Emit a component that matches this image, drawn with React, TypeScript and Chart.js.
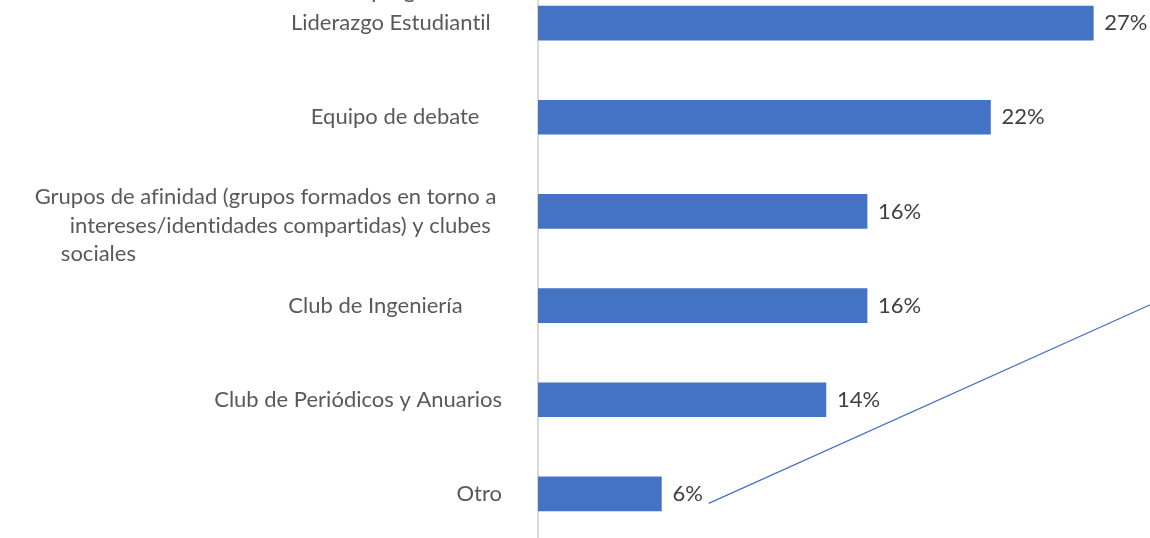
import React, { useEffect, useRef } from "react";
import { Chart, registerables } from "chart.js";

Chart.register(...registerables);

// ---- data ----
const categories: string[][] = [
  ["Gobierno estudiantil o programas de", "Liderazgo Estudiantil"],
  ["Equipo de debate"],
  [
    "Grupos de afinidad (grupos formados en torno a",
    "intereses/identidades compartidas) y clubes",
    "sociales",
  ],
  ["Club de Ingeniería"],
  ["Club de Periódicos y Anuarios"],
  ["Otro"],
];
const values: number[] = [27, 22, 16, 16, 14, 6];
const valueSuffix = "%";
const axisMin = 0;
const axisMax = 30;
// stray connector line present in the original picture (x in %, y in category index)
const decorLineX: number[] = [8.3, 30.5];
const decorLineY: number[] = [5.1, 2.92];

// ---- style ----
const FONT = "Lato";
const FONT_SIZE = 22;
const BAR_COLOR = "#4472C4";
const LABEL_COLOR = "#595959";
const VALUE_COLOR = "#404040";
// trailing spaces per line (Excel-like alignment quirks) and blank lines before/after
const trailingSpaces: number[][] = [[0, 2], [4], [1, 2, 65], [7], [0], [0]];
const blankBefore: number[] = [0, 0, 1, 0, 0, 0];
const blankAfter: number[] = [1, 0, 0, 0, 0, 0];
const lineHeights: number[] = [1.45, 1.3, 1.3, 1.3, 1.3, 1.3];

const noLigaturesPlugin = {
  id: "noLigatures",
  beforeDraw(chart: any) {
    const ctx = chart.ctx as any;
    ctx.textRendering = "optimizeSpeed";
  },
};

const valueLabelPlugin = {
  id: "valueLabels",
  afterDatasetsDraw(chart: any) {
    const ctx = chart.ctx;
    const meta = chart.getDatasetMeta(0);
    ctx.save();
    ctx.font = `${FONT_SIZE}px ${FONT}`;
    ctx.fillStyle = VALUE_COLOR;
    ctx.textAlign = "left";
    ctx.textBaseline = "middle";
    meta.data.forEach((bar: any, i: number) => {
      ctx.fillText(`${values[i]}${valueSuffix}`, bar.x + 11, bar.y);
    });
    ctx.restore();
  },
};

const decorLinePlugin = {
  id: "decorLine",
  afterDatasetsDraw(chart: any) {
    const { ctx, scales } = chart;
    const xs = scales.x;
    const ys = scales.y;
    ctx.save();
    ctx.strokeStyle = BAR_COLOR;
    ctx.lineWidth = 1.25;
    ctx.beginPath();
    decorLineX.forEach((xv, i) => {
      const px = xs.getPixelForValue(xv);
      const py = ys.getPixelForValue(decorLineY[i]);
      if (i === 0) ctx.moveTo(px, py);
      else ctx.lineTo(px, py);
    });
    ctx.stroke();
    ctx.restore();
  },
};

export default function App() {
  const ref = useRef<HTMLCanvasElement | null>(null);

  useEffect(() => {
    if (!ref.current) return;
    const chart = new Chart(ref.current, {
      type: "bar",
      data: {
        labels: categories.map((c) => c.join(" ")),
        datasets: [
          {
            data: values,
            backgroundColor: BAR_COLOR,
            borderWidth: 0,
            barThickness: 34,
          },
        ],
      },
      options: {
        indexAxis: "y",
        responsive: false,
        animation: false,
        events: [],
        layout: { padding: { top: 6, bottom: 9, left: 0, right: 0 } },
        plugins: {
          legend: { display: false },
          tooltip: { enabled: false },
          title: { display: false },
        },
        scales: {
          x: {
            display: false,
            min: axisMin,
            max: axisMax,
          },
          y: {
            grid: {
              display: true,
              color: "rgba(0,0,0,0)",
              drawOnChartArea: false,
              drawTicks: true,
              tickLength: 36,
            },
            border: { display: true, color: "#D9D9D9", width: 2 },
            ticks: {
              autoSkip: false,
              padding: 0,
              color: LABEL_COLOR,
              font: (c: any) => ({
                family: FONT,
                size: FONT_SIZE,
                lineHeight: lineHeights[c.index] ?? 1.3,
              }),
              callback: (_v: any, index: number) => {
                const lines = categories[index].map(
                  (l, j) => l + " ".repeat(trailingSpaces[index][j] || 0)
                );
                return [
                  ...Array(blankBefore[index]).fill(""),
                  ...lines,
                  ...Array(blankAfter[index]).fill(""),
                ];
              },
            },
            afterFit: (scale: any) => {
              scale.width = 538;
              scale.paddingTop = 0;
              scale.paddingBottom = 0;
            },
          },
        },
      },
      plugins: [noLigaturesPlugin, valueLabelPlugin, decorLinePlugin],
    });
    return () => chart.destroy();
  }, []);

  return (
    <div
      style={{
        position: "fixed",
        left: 0,
        top: 0,
        width: 1150,
        height: 538,
        overflow: "hidden",
        background: "#FFFFFF",
      }}
    >
      <canvas
        ref={ref}
        width={1155}
        height={580}
        style={{ position: "absolute", left: 0, top: -30, width: 1155, height: 580 }}
      />
    </div>
  );
}
